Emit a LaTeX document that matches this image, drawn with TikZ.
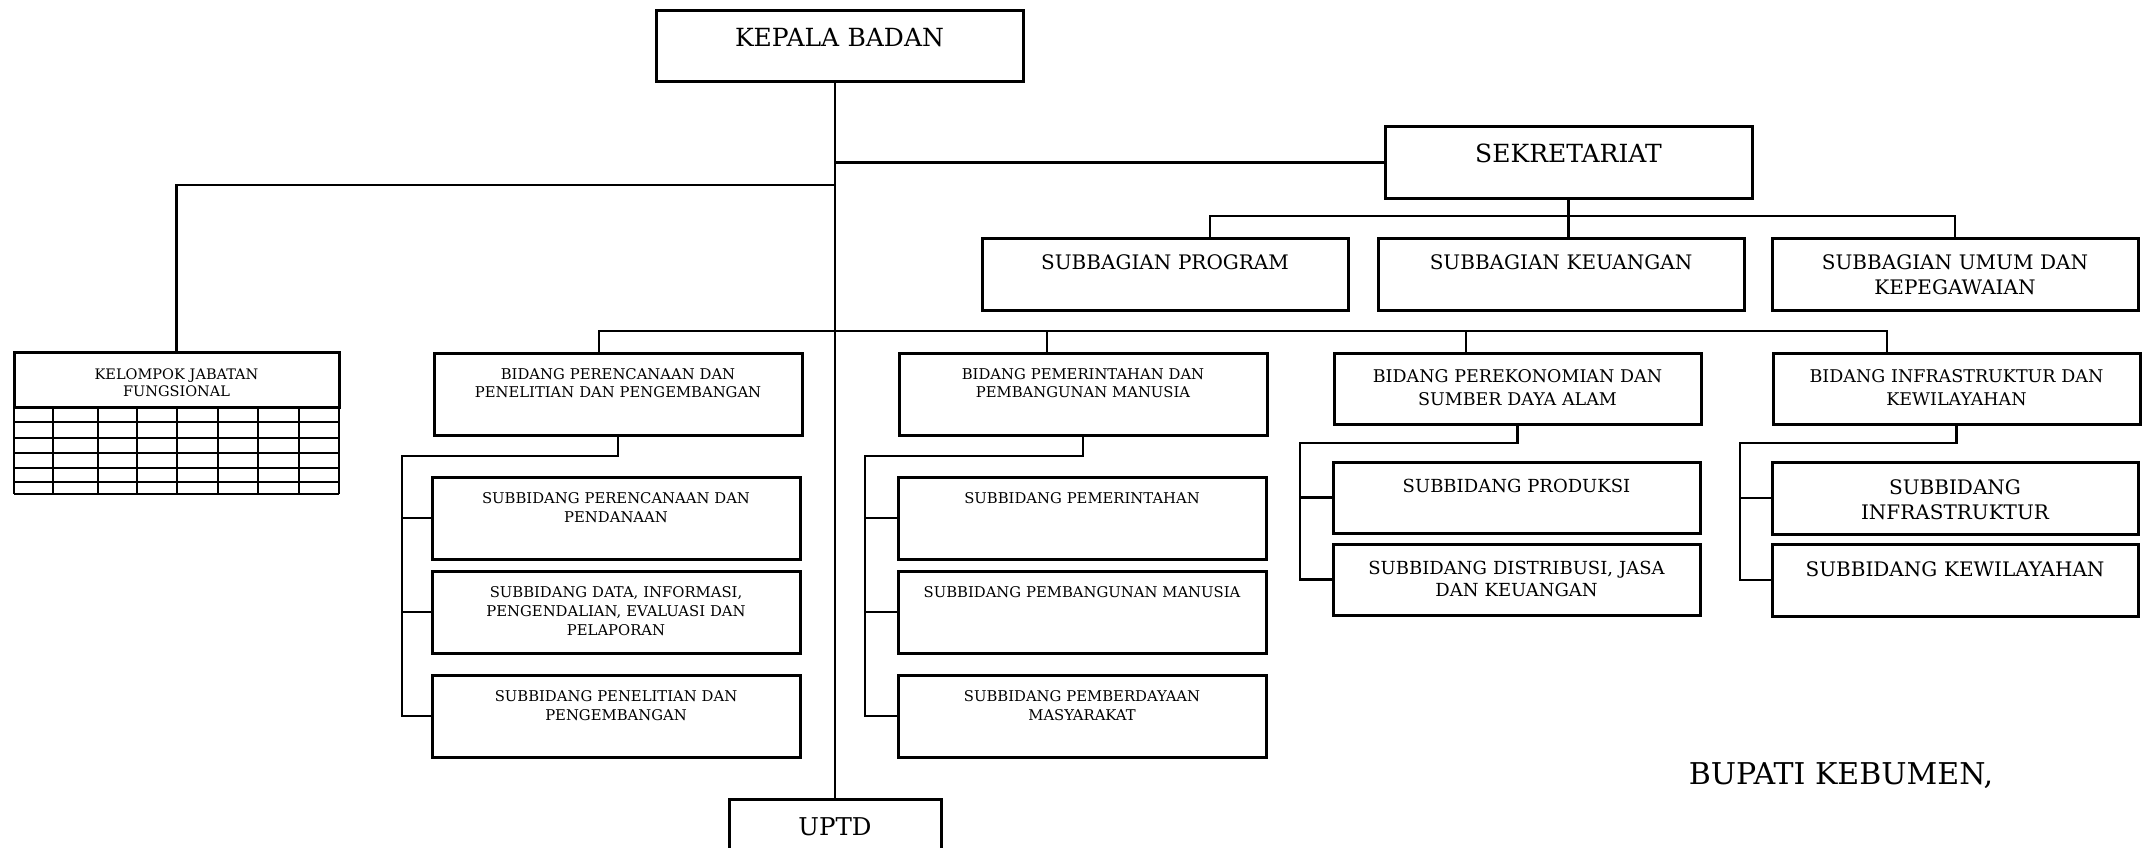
\documentclass[tikz,border=0pt]{standalone}
\usepackage{fontspec}
\setmainfont{DejaVu Serif}
\usepackage{tikz}
\usetikzlibrary{positioning}

\tikzset{
  kotak/.style={draw, line width=3pt, inner sep=0pt, outer sep=0pt, align=center, anchor=north west},
  garis/.style={line width=2.7pt, line cap=rect},
  tabel/.style={line width=2.2pt},
  besar/.style={kotak, text width=367pt, text height=36pt, text depth=35pt, font=\fontsize{25}{30}\selectfont},
  subbagian/.style={kotak, text width=366pt, text height=31pt, text depth=41pt, font=\fontsize{20}{25}\selectfont},
  bidangkecil/.style={kotak, text width=368pt, text height=26pt, text depth=56pt, font=\fontsize{14.8}{18}\selectfont},
  bidangbesar/.style={kotak, text width=367pt, text height=29pt, text depth=42pt, font=\fontsize{17.5}{23}\selectfont},
  subkecil/.style={kotak, text width=368pt, text height=26pt, text depth=56pt, font=\fontsize{14.8}{19}\selectfont},
  subeko/.style={kotak, text width=367pt, text height=30pt, text depth=41pt, font=\fontsize{18}{22}\selectfont},
  subinfra/.style={kotak, text width=366pt, text height=32pt, text depth=40pt, font=\fontsize{20}{25}\selectfont},
}

\begin{document}
\begin{tikzpicture}[x=1pt, y=-1pt]
    \useasboundingbox (0,0) rectangle (2144,848);
    \clip (0,0) rectangle (2144,848);

    % Kepala badan dan sekretariat
    \node[besar] (kepala) at (656,11) {KEPALA BADAN};
    \node[besar] (sekre) at (1385,127) {SEKRETARIAT};

    % Subbagian
    \node[subbagian] (sbprog) at (982,238) {SUBBAGIAN PROGRAM};
    \node[subbagian] (sbkeu) at (1378,238) {SUBBAGIAN KEUANGAN};
    \node[subbagian] (sbumum) at (1772,238) {SUBBAGIAN UMUM DAN\\KEPEGAWAIAN};

    % Kelompok jabatan fungsional
    \node[kotak, text width=325pt, text height=27pt, text depth=28pt, font=\fontsize{14.5}{17}\selectfont] (kjf) at (14,352) {KELOMPOK JABATAN\\FUNGSIONAL};
    \foreach \r in {422,438,453,468,482,494}
        \draw[tabel] (14,\r) -- (339,\r);
    \foreach \c in {14,53,98,137,177,218,258,299,339}
        \draw[tabel] (\c,407) -- (\c,494);

    % Bidang
    \node[bidangkecil] (bren) at (434,353) {BIDANG PERENCANAAN DAN\\PENELITIAN DAN PENGEMBANGAN};
    \node[bidangkecil] (bpem) at (899,353) {BIDANG PEMERINTAHAN DAN\\PEMBANGUNAN MANUSIA};
    \node[bidangbesar] (beko) at (1334,353) {BIDANG PEREKONOMIAN DAN\\SUMBER DAYA ALAM};
    \node[bidangbesar] (binfra) at (1773,353) {BIDANG INFRASTRUKTUR DAN\\KEWILAYAHAN};

    % Subbidang
    \node[subkecil] (sren1) at (432,477) {SUBBIDANG PERENCANAAN DAN\\PENDANAAN};
    \node[subkecil] (sren2) at (432,571) {SUBBIDANG DATA, INFORMASI,\\PENGENDALIAN, EVALUASI DAN\\PELAPORAN};
    \node[subkecil] (sren3) at (432,675) {SUBBIDANG PENELITIAN DAN\\PENGEMBANGAN};
    \node[subkecil] (spem1) at (898,477) {SUBBIDANG PEMERINTAHAN};
    \node[subkecil] (spem2) at (898,571) {SUBBIDANG PEMBANGUNAN MANUSIA};
    \node[subkecil] (spem3) at (898,675) {SUBBIDANG PEMBERDAYAAN\\MASYARAKAT};
    \node[subeko] (seko1) at (1333,462) {SUBBIDANG PRODUKSI};
    \node[subeko] (seko2) at (1333,544) {SUBBIDANG DISTRIBUSI, JASA\\DAN KEUANGAN};
    \node[subinfra] (sinfra1) at (1772,462) {SUBBIDANG\\INFRASTRUKTUR};
    \node[subinfra] (sinfra2) at (1772,544) {SUBBIDANG KEWILAYAHAN};

    % UPTD
    \node[kotak, text width=212pt, text height=36pt, text depth=40pt, font=\fontsize{24.5}{29}\selectfont] (uptd) at (729,799) {UPTD};

    % Tanda tangan
    \node[font=\fontsize{30}{36}\selectfont, anchor=base] (bupati) at (1841,784) {BUPATI KEBUMEN,};

    % Garis utama
    \draw[garis] (kepala.south -| uptd.north) -- (uptd.north);
    \draw[garis] (uptd.north |- sekre.west) -- (sekre.west);
    \coordinate (kjfjoin) at (835,185);
    \draw[garis] (kjfjoin) -| (kjf.north);

    % Garis sekretariat
    \coordinate (sekL) at (1210,216);
    \coordinate (sekR) at (1955,216);
    \draw[garis] (sekL |- sbprog.north) -- (sekL) -- (sekR) -- (sekR |- sbumum.north);
    \draw[garis] (sekre.south) -- (sekre.south |- sbkeu.north);

    % Garis bidang
    \coordinate (bidL) at (599,331);
    \coordinate (bidR) at (1887,331);
    \coordinate (bidA) at (1047,331);
    \coordinate (bidB) at (1466,331);
    \draw[garis] (bidL |- bren.north) -- (bidL) -- (bidR) -- (bidR |- binfra.north);
    \draw[garis] (bidA) -- (bidA |- bpem.north);
    \draw[garis] (bidB) -- (bidB |- beko.north);

    % Garis subbidang
    \coordinate (renS) at (402,456);
    \draw[garis] (bren.south) |- (renS) -- (renS |- sren3.west);
    \foreach \s in {sren1,sren2,sren3}
        \draw[garis] (renS |- \s.west) -- (\s.west);
    \coordinate (pemS) at (865,456);
    \draw[garis] (bpem.south) |- (pemS) -- (pemS |- spem3.west);
    \foreach \s in {spem1,spem2,spem3}
        \draw[garis] (pemS |- \s.west) -- (\s.west);
    \coordinate (ekoS) at (1300,443);
    \draw[garis] (beko.south) |- (ekoS) -- (ekoS |- seko2.west);
    \foreach \s in {seko1,seko2}
        \draw[garis] (ekoS |- \s.west) -- (\s.west);
    \coordinate (infS) at (1740,443);
    \draw[garis] (binfra.south) |- (infS) -- (infS |- sinfra2.west);
    \foreach \s in {sinfra1,sinfra2}
        \draw[garis] (infS |- \s.west) -- (\s.west);
\end{tikzpicture}
\end{document}
